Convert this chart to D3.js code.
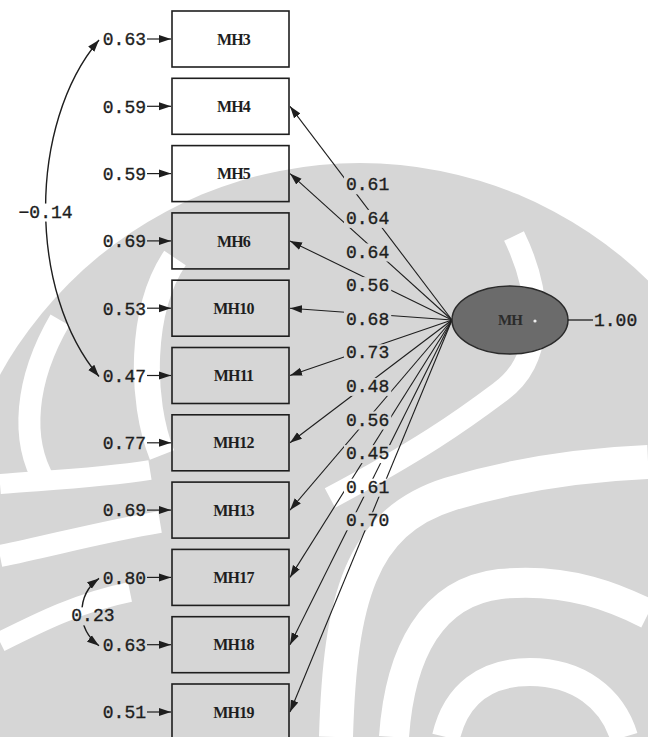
<!DOCTYPE html>
<html>
<head>
<meta charset="utf-8">
<script src="https://cdn.jsdelivr.net/npm/d3@7"></script>
<style>
  body { margin: 0; background: #fff; }
</style>
</head>
<body>
<div id="svg-container"></div>
<script>
// Observed variables, top to bottom
const indicators = ["MH3", "MH4", "MH5", "MH6", "MH10", "MH11", "MH12", "MH13", "MH17", "MH18", "MH19"];
// Error variances (left of each box)
const errorVars = [0.63, 0.59, 0.59, 0.69, 0.53, 0.47, 0.77, 0.69, 0.80, 0.63, 0.51];
// Factor loadings (label column, top to bottom)
const loadings = [0.61, 0.64, 0.64, 0.56, 0.68, 0.73, 0.48, 0.56, 0.45, 0.61, 0.70];
// Indicators with no visible path from the latent variable
const noPath = ["MH3"];
// Correlated errors
const covA = ["MH3", "MH17"];
const covB = ["MH11", "MH18"];
const covValues = [-0.14, 0.23];
// Latent variable
const latentName = "MH";
const latentVar = 1.00;

const width = 648;
const height = 737;

const fmt = d3.format(".2f");
const ink = "#1e1e1e";
const mono = "'Liberation Mono', 'DejaVu Sans Mono', monospace";

const svg = d3.select("#svg-container")
  .append("svg")
    .attr("width", width)
    .attr("height", height);

// Scan watermark in the background (rough)
const wm = svg.append("g");
wm.append("circle")
  .attr("cx", 360).attr("cy", 575).attr("r", 412)
  .attr("fill", "#d6d6d6");
const bands = [
  { d: "M514,236 C545,300 542,362 500,392 C460,422 420,450 330,498", w: 22 },
  { d: "M336,737 C340,600 360,522 450,494 C530,470 600,464 648,462", w: 34 },
  { d: "M394,737 C400,652 432,592 500,584 C570,577 620,600 648,614", w: 30 },
  { d: "M446,737 C456,694 486,672 530,672 C578,672 612,698 624,737", w: 28 },
  { d: "M175,258 C140,310 140,400 162,455", w: 26 },
  { d: "M60,320 C25,380 20,440 45,482", w: 22 },
  { d: "M0,484 C50,480 100,478 150,470", w: 20 },
  { d: "M0,556 C50,546 100,532 160,522", w: 22 },
  { d: "M0,642 C40,622 80,602 130,592", w: 20 }
];
wm.selectAll("path")
  .data(bands)
  .enter()
  .append("path")
    .attr("d", d => d.d)
    .attr("fill", "none")
    .attr("stroke", "#fff")
    .attr("stroke-width", d => d.w);

// Scales
const yScale = d3.scalePoint()
  .domain(indicators)
  .range([39, 712]);

const labelY = d3.scalePoint()
  .domain(d3.range(loadings.length))
  .range([184, 520]);

const box = { x0: 172, x1: 289, h: 56 };
const ell = { cx: 510, cy: 320, rx: 58, ry: 34 };

// Arrowhead
const defs = svg.append("defs");
defs.append("marker")
  .attr("id", "arrow")
  .attr("viewBox", "0 -5 12 10")
  .attr("refX", 12)
  .attr("refY", 0)
  .attr("markerUnits", "userSpaceOnUse")
  .attr("markerWidth", 12)
  .attr("markerHeight", 10)
  .attr("orient", "auto-start-reverse")
  .append("path")
    .attr("d", "M0,-4L12,0L0,4Z")
    .attr("fill", ink);

// Mask so that lines break behind labels
const mask = defs.append("mask").attr("id", "labelMask")
  .attr("maskUnits", "userSpaceOnUse")
  .attr("x", 0).attr("y", 0).attr("width", width).attr("height", height);
mask.append("rect").attr("width", width).attr("height", height).attr("fill", "#fff");

const linesG = svg.append("g").attr("mask", "url(#labelMask)");
const labelsG = svg.append("g");

const numText = sel => sel
  .style("font-family", mono)
  .style("font-size", "18px")
  .attr("fill", ink)
  .attr("stroke", ink)
  .attr("stroke-width", 0.35);

// Boxes
const boxes = svg.append("g");
boxes.selectAll("rect")
  .data(indicators)
  .enter()
  .append("rect")
    .attr("x", box.x0)
    .attr("y", d => yScale(d) - box.h / 2)
    .attr("width", box.x1 - box.x0)
    .attr("height", box.h)
    .attr("fill", "none")
    .attr("stroke", ink)
    .attr("stroke-width", 1.6);

boxes.selectAll("text")
  .data(indicators)
  .enter()
  .append("text")
    .attr("x", (box.x0 + box.x1) / 2 + 3)
    .attr("y", d => yScale(d))
    .attr("dy", "0.35em")
    .attr("text-anchor", "middle")
    .style("font-family", "'Liberation Serif', serif")
    .style("font-weight", "bold")
    .style("font-size", "16px")
    .style("letter-spacing", "-0.8px")
    .attr("fill", ink)
    .text(d => d);

// Error variances with short arrows into the boxes
labelsG.selectAll("text.err")
  .data(indicators)
  .enter()
  .append("text")
    .attr("class", "err")
    .attr("x", 146)
    .attr("y", d => yScale(d))
    .attr("dy", "0.35em")
    .attr("text-anchor", "end")
    .call(numText)
    .text((d, i) => fmt(errorVars[i]));

svg.append("g").selectAll("line")
  .data(indicators)
  .enter()
  .append("line")
    .attr("x1", 147)
    .attr("x2", box.x0 - 1)
    .attr("y1", d => yScale(d))
    .attr("y2", d => yScale(d))
    .attr("stroke", ink)
    .attr("stroke-width", 1.2)
    .attr("marker-end", "url(#arrow)");

// Loading paths from the latent variable to the boxes
const x0 = ell.cx - ell.rx;
linesG.selectAll("line.load")
  .data(indicators.filter(d => !noPath.includes(d)))
  .enter()
  .append("line")
    .attr("class", "load")
    .attr("x1", x0)
    .attr("y1", ell.cy)
    .attr("x2", box.x1 + 1)
    .attr("y2", d => yScale(d))
    .attr("stroke", ink)
    .attr("stroke-width", 1.1)
    .attr("marker-end", "url(#arrow)");

// Loading labels
labelsG.selectAll("text.load")
  .data(loadings)
  .enter()
  .append("text")
    .attr("class", "load")
    .attr("x", 346)
    .attr("y", (d, i) => labelY(i))
    .attr("dy", "0.35em")
    .call(numText)
    .text(d => fmt(d));

// Correlated errors
const covData = covValues.map((v, i) => {
  const ya = yScale(covA[i]) + 1;
  const yb = yScale(covB[i]) + 1;
  const span = yb - ya;
  const off = 8 + 0.135 * span;
  const cx = 99 - off / 0.75;
  const left = 99 - off;
  return { v, ya, yb, span, cx, left };
});

linesG.selectAll("path.cov")
  .data(covData)
  .enter()
  .append("path")
    .attr("class", "cov")
    .attr("d", d => {
      const p = d3.path();
      p.moveTo(99, d.ya);
      p.bezierCurveTo(d.cx, d.ya + d.span * 0.25, d.cx, d.yb - d.span * 0.25, 99, d.yb);
      return p.toString();
    })
    .attr("fill", "none")
    .attr("stroke", ink)
    .attr("stroke-width", 1.4)
    .attr("marker-start", "url(#arrow)")
    .attr("marker-end", "url(#arrow)");

labelsG.selectAll("text.cov")
  .data(covData)
  .enter()
  .append("text")
    .attr("class", "cov")
    .attr("x", d => d.span < 100 ? d.left + 11 : d.left)
    .attr("y", d => (d.ya + d.yb) / 2 + 3)
    .attr("dy", "0.35em")
    .attr("text-anchor", "middle")
    .call(numText)
    .text(d => fmt(d.v));

// Knock lines out behind the loading and covariance labels
labelsG.selectAll("text.load, text.cov").each(function() {
  const b = this.getBBox();
  mask.append("rect")
    .attr("x", b.x - 2).attr("y", b.y + 1)
    .attr("width", b.width + 4).attr("height", b.height - 2)
    .attr("fill", "#000");
});

// Latent variable
const lat = svg.append("g");
lat.append("ellipse")
  .attr("cx", ell.cx).attr("cy", ell.cy)
  .attr("rx", ell.rx).attr("ry", ell.ry)
  .attr("fill", "#6b6b6b")
  .attr("stroke", "#2a2a2a")
  .attr("stroke-width", 1.5);
lat.append("text")
  .attr("x", ell.cx)
  .attr("y", ell.cy)
  .attr("dy", "0.35em")
  .attr("text-anchor", "middle")
  .style("font-family", "'Liberation Serif', serif")
  .style("font-weight", "bold")
  .style("font-size", "15px")
  .style("letter-spacing", "-0.8px")
  .attr("fill", "#2b2b2b")
  .text(latentName);
lat.append("circle")
  .attr("cx", ell.cx + 25).attr("cy", ell.cy + 1).attr("r", 1.6)
  .attr("fill", "#eee");
lat.append("line")
  .attr("x1", ell.cx + ell.rx).attr("x2", ell.cx + ell.rx + 25)
  .attr("y1", ell.cy).attr("y2", ell.cy)
  .attr("stroke", ink).attr("stroke-width", 1.3);
lat.append("text")
  .attr("x", ell.cx + ell.rx + 26)
  .attr("y", ell.cy)
  .attr("dy", "0.35em")
  .call(numText)
  .text(fmt(latentVar));
</script>
</body>
</html>
